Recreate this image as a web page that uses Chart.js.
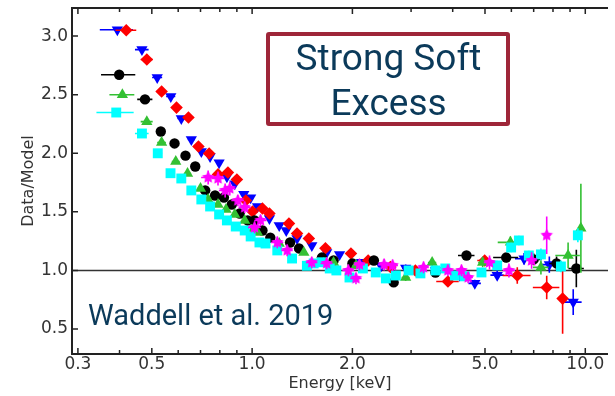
<!DOCTYPE html>
<html lang="en">
<head>
<meta charset="UTF-8">
<title>Data/Model vs Energy</title>
<script src="https://cdn.jsdelivr.net/npm/chart.js"></script>
<style>
  body { margin: 0; background: #fff; }
  #wrap { position: relative; width: 615px; height: 396px; overflow: hidden; }
  #box {
    position: absolute; left: 266px; top: 32px; width: 236px; height: 86px;
    border: 4.5px solid #9e2639; border-radius: 3px; background: #fff;
  }
  .note { position: absolute; font-family: Roboto, sans-serif; color: #0b3a5a; white-space: nowrap; }
  #boxText { left: 266px; width: 245px; top: 35px; font-size: 37px; line-height: 45px; text-align: center; }
  #cite { left: 88px; top: 301px; font-size: 29px; line-height: 29px; }
</style>
</head>
<body>
<div id="wrap">
  <canvas id="c" width="615" height="396"></canvas>
  <div id="box"></div>
  <div id="boxText" class="note">Strong Soft<br>Excess</div>
  <div id="cite" class="note">Waddell et al. 2019</div>
</div>
<script>
// rows: [energy keV, data/model, energy half-width, ratio error]
const blueRows = [
  [0.394, 3.055, 0.045, 0.02], [0.467, 2.885, 0.022, 0.02], [0.519, 2.647, 0.018, 0.02],
  [0.570, 2.485, 0.018, 0.02], [0.613, 2.297, 0.016, 0.02], [0.657, 2.118, 0.016, 0.02],
  [0.704, 2.015, 0.016, 0.02], [0.748, 1.973, 0.016, 0.02], [0.796, 1.920, 0.016, 0.02],
  [0.840, 1.800, 0.016, 0.02], [0.887, 1.740, 0.016, 0.02], [0.944, 1.650, 0.018, 0.02],
  [0.990, 1.620, 0.018, 0.02], [1.038, 1.546, 0.020, 0.02], [1.127, 1.444, 0.020, 0.02],
  [1.206, 1.384, 0.025, 0.02], [1.266, 1.341, 0.025, 0.02], [1.364, 1.273, 0.030, 0.02],
  [1.511, 1.213, 0.030, 0.02], [1.674, 1.154, 0.035, 0.02], [1.830, 1.137, 0.040, 0.02],
  [2.13, 1.07, 0.05, 0.02], [2.44, 1.04, 0.06, 0.02], [2.89, 1.02, 0.07, 0.03],
  [3.55, 1.00, 0.09, 0.03], [4.20, 0.96, 0.12, 0.03], [4.66, 0.89, 0.20, 0.03],
  [5.44, 0.96, 0.25, 0.04], [6.55, 1.10, 0.40, 0.05], [7.80, 1.05, 0.40, 0.07],
  [9.20, 0.73, 0.55, 0.11]
];
const redRows = [
  [0.419, 3.05, 0.030, 0.02], [0.483, 2.80, 0.020, 0.02], [0.535, 2.527, 0.018, 0.02],
  [0.593, 2.39, 0.018, 0.02], [0.644, 2.305, 0.016, 0.02], [0.690, 2.058, 0.016, 0.02],
  [0.743, 1.998, 0.016, 0.02], [0.790, 1.82, 0.016, 0.02], [0.846, 1.836, 0.016, 0.02],
  [0.900, 1.776, 0.018, 0.02], [0.957, 1.597, 0.018, 0.02], [1.003, 1.503, 0.020, 0.02],
  [1.074, 1.529, 0.020, 0.02], [1.127, 1.486, 0.020, 0.02], [1.29, 1.40, 0.025, 0.02],
  [1.364, 1.316, 0.030, 0.02], [1.48, 1.273, 0.030, 0.02], [1.66, 1.19, 0.035, 0.02],
  [1.98, 1.145, 0.05, 0.02], [2.23, 1.085, 0.05, 0.02], [2.60, 1.03, 0.06, 0.03],
  [3.09, 1.00, 0.08, 0.03], [3.87, 0.906, 0.30, 0.03], [4.99, 1.085, 0.25, 0.04],
  [6.25, 0.957, 0.60, 0.07], [7.66, 0.855, 0.70, 0.10], [8.55, 0.76, 0.20, 0.30]
];
const blackRows = [
  [0.399, 2.67, 0.047, 0.02], [0.477, 2.46, 0.025, 0.02], [0.532, 2.186, 0.016, 0.02],
  [0.585, 2.084, 0.016, 0.02], [0.631, 1.98, 0.016, 0.02], [0.675, 1.887, 0.016, 0.02],
  [0.723, 1.683, 0.016, 0.02], [0.774, 1.64, 0.016, 0.02], [0.823, 1.623, 0.016, 0.02],
  [0.869, 1.563, 0.016, 0.02], [0.918, 1.486, 0.018, 0.02], [0.970, 1.427, 0.018, 0.02],
  [1.017, 1.427, 0.020, 0.02], [1.074, 1.341, 0.020, 0.02], [1.134, 1.28, 0.020, 0.02],
  [1.30, 1.239, 0.025, 0.02], [1.383, 1.188, 0.030, 0.02], [1.62, 1.11, 0.035, 0.02],
  [1.756, 1.085, 0.04, 0.02], [2.00, 1.06, 0.05, 0.02], [2.32, 1.085, 0.05, 0.02],
  [2.66, 0.898, 0.06, 0.03], [3.55, 0.983, 0.10, 0.03], [4.40, 1.128, 0.25, 0.03],
  [5.79, 1.11, 0.50, 0.04], [7.00, 1.094, 0.40, 0.05], [8.20, 1.06, 0.40, 0.06],
  [9.40, 1.017, 0.50, 0.16]
];
const greenRows = [
  [0.408, 2.50, 0.035, 0.02], [0.483, 2.27, 0.020, 0.02], [0.535, 2.092, 0.016, 0.02],
  [0.590, 1.93, 0.016, 0.02], [0.640, 1.828, 0.016, 0.02], [0.700, 1.70, 0.016, 0.02],
  [0.738, 1.606, 0.016, 0.02], [0.790, 1.563, 0.016, 0.02], [0.835, 1.52, 0.016, 0.02],
  [0.887, 1.478, 0.016, 0.02], [0.950, 1.427, 0.018, 0.02], [1.003, 1.341, 0.020, 0.02],
  [1.038, 1.324, 0.020, 0.02], [1.206, 1.23, 0.025, 0.02], [1.43, 1.154, 0.030, 0.02],
  [1.64, 1.06, 0.035, 0.02], [1.756, 1.068, 0.04, 0.02], [2.05, 1.04, 0.05, 0.02],
  [2.89, 0.94, 0.08, 0.03], [3.47, 1.068, 0.10, 0.03], [4.92, 1.068, 0.15, 0.04],
  [5.96, 1.24, 0.50, 0.05], [7.36, 1.026, 0.40, 0.06], [8.88, 1.128, 0.75, 0.11],
  [9.70, 1.36, 0.20, 0.38]
];
const cyanRows = [
  [0.391, 2.348, 0.050, 0.02], [0.467, 2.169, 0.022, 0.02], [0.521, 2.00, 0.016, 0.02],
  [0.569, 1.83, 0.016, 0.02], [0.613, 1.785, 0.016, 0.02], [0.657, 1.683, 0.016, 0.02],
  [0.704, 1.606, 0.016, 0.02], [0.748, 1.546, 0.016, 0.02], [0.796, 1.478, 0.016, 0.02],
  [0.840, 1.427, 0.016, 0.02], [0.893, 1.375, 0.016, 0.02], [0.950, 1.341, 0.018, 0.02],
  [0.990, 1.29, 0.018, 0.02], [1.052, 1.239, 0.020, 0.02], [1.097, 1.23, 0.020, 0.02],
  [1.19, 1.171, 0.025, 0.02], [1.318, 1.102, 0.030, 0.02], [1.46, 1.04, 0.030, 0.02],
  [1.53, 1.06, 0.030, 0.02], [1.62, 1.07, 0.035, 0.02], [1.71, 1.017, 0.035, 0.02],
  [1.79, 1.00, 0.04, 0.02], [1.96, 0.94, 0.04, 0.02], [2.15, 1.017, 0.05, 0.02],
  [2.35, 0.983, 0.05, 0.02], [2.52, 0.932, 0.06, 0.02], [2.70, 0.957, 0.06, 0.02],
  [2.95, 1.00, 0.07, 0.02], [3.20, 0.975, 0.08, 0.02], [3.55, 1.00, 0.09, 0.03],
  [3.80, 1.017, 0.10, 0.03], [4.06, 0.957, 0.10, 0.03], [4.35, 0.95, 0.10, 0.03],
  [4.88, 0.983, 0.12, 0.03], [5.44, 1.043, 0.15, 0.04], [5.99, 1.196, 0.15, 0.04],
  [6.32, 1.256, 0.15, 0.04], [6.77, 1.128, 0.20, 0.04], [7.36, 1.137, 0.20, 0.05],
  [8.45, 1.034, 0.25, 0.05], [9.50, 1.30, 0.20, 0.06]
];
const magentaRows = [
  [0.738, 1.794, 0.035, 0.06], [0.790, 1.785, 0.035, 0.06], [0.830, 1.683, 0.035, 0.06],
  [0.857, 1.70, 0.035, 0.06], [0.906, 1.597, 0.040, 0.05], [0.950, 1.538, 0.040, 0.05],
  [1.017, 1.367, 0.045, 0.05], [1.060, 1.427, 0.045, 0.05], [1.19, 1.239, 0.05, 0.05],
  [1.274, 1.171, 0.05, 0.05], [1.51, 1.068, 0.06, 0.05], [1.674, 1.06, 0.07, 0.05],
  [1.945, 1.00, 0.08, 0.05], [2.05, 0.932, 0.08, 0.05], [2.10, 1.05, 0.08, 0.05],
  [2.49, 1.05, 0.10, 0.05], [2.64, 1.043, 0.10, 0.05], [3.27, 1.026, 0.12, 0.05],
  [3.87, 1.00, 0.15, 0.05], [4.25, 1.00, 0.15, 0.05], [4.45, 0.94, 0.15, 0.05],
  [5.16, 1.068, 0.20, 0.06], [5.90, 1.00, 0.25, 0.06], [6.90, 1.085, 0.25, 0.07],
  [7.66, 1.30, 0.20, 0.16]
];

const xMajor = [0.3, 0.5, 1.0, 2.0, 5.0, 10.0];
const xMinor = [0.4, 0.6, 0.7, 0.8, 0.9, 3, 4, 6, 7, 8, 9];
const yMajor = [0.5, 1.0, 1.5, 2.0, 2.5, 3.0];

// filled five-point star marker
function starMarker(color, r) {
  const c = document.createElement('canvas');
  const s = Math.ceil(r * 2 + 2);
  c.width = c.height = s;
  const g = c.getContext('2d');
  g.fillStyle = color;
  g.beginPath();
  for (let i = 0; i < 10; i++) {
    const a = -Math.PI / 2 + i * Math.PI / 5;
    const rr = i % 2 ? r * 0.5 : r;
    g.lineTo(s / 2 + rr * Math.cos(a), s / 2 + rr * Math.sin(a));
  }
  g.closePath();
  g.fill();
  return c;
}

function series(rows, color, style, radius, rot) {
  return {
    rows: rows,
    data: rows.map(r => ({ x: r[0], y: r[1] })),
    backgroundColor: color,
    borderColor: color,
    pointStyle: style,
    pointRadius: radius,
    pointBorderWidth: 0,
    pointRotation: rot || 0,
    showLine: false
  };
}

// error bars, drawn just under each dataset's markers
const errorBars = {
  id: 'errorBars',
  beforeDatasetDraw(chart, args) {
    const ds = chart.data.datasets[args.index];
    const xs = chart.scales.x, ys = chart.scales.y, ctx = chart.ctx, a = chart.chartArea;
    ctx.save();
    ctx.beginPath();
    ctx.rect(a.left, a.top, a.right - a.left, a.bottom - a.top);
    ctx.clip();
    ctx.strokeStyle = ds.borderColor;
    ctx.lineWidth = 1.6;
    ctx.beginPath();
    ds.rows.forEach(r => {
      const px = xs.getPixelForValue(r[0]), py = ys.getPixelForValue(r[1]);
      ctx.moveTo(xs.getPixelForValue(r[0] - r[2]), py);
      ctx.lineTo(xs.getPixelForValue(r[0] + r[2]), py);
      ctx.moveTo(px, ys.getPixelForValue(r[1] - r[3]));
      ctx.lineTo(px, ys.getPixelForValue(r[1] + r[3]));
    });
    ctx.stroke();
    ctx.restore();
  }
};

// frame, inward ticks and the unity line
const frame = {
  id: 'frame',
  beforeDatasetsDraw(chart) {
    const ctx = chart.ctx, a = chart.chartArea, ys = chart.scales.y;
    const y1 = ys.getPixelForValue(1.0);
    ctx.save();
    ctx.strokeStyle = '#333';
    ctx.lineWidth = 1.4;
    ctx.beginPath();
    ctx.moveTo(a.left, y1);
    ctx.lineTo(a.right, y1);
    ctx.stroke();
    ctx.restore();
  },
  afterDraw(chart) {
    const ctx = chart.ctx, a = chart.chartArea, xs = chart.scales.x, ys = chart.scales.y;
    ctx.save();
    ctx.strokeStyle = '#222';
    ctx.lineWidth = 2;
    ctx.beginPath();
    ctx.moveTo(a.right, a.top); ctx.lineTo(a.left, a.top);
    ctx.lineTo(a.left, a.bottom); ctx.lineTo(a.right, a.bottom);
    ctx.stroke();
    ctx.lineWidth = 1.5;
    ctx.beginPath();
    xMajor.forEach(v => {
      const p = xs.getPixelForValue(v);
      ctx.moveTo(p, a.bottom); ctx.lineTo(p, a.bottom - 6);
      ctx.moveTo(p, a.top); ctx.lineTo(p, a.top + 6);
    });
    xMinor.forEach(v => {
      const p = xs.getPixelForValue(v);
      ctx.moveTo(p, a.bottom); ctx.lineTo(p, a.bottom - 4);
      ctx.moveTo(p, a.top); ctx.lineTo(p, a.top + 4);
    });
    yMajor.forEach(v => {
      const p = ys.getPixelForValue(v);
      ctx.moveTo(a.left, p); ctx.lineTo(a.left + 6, p);
    });
    ctx.stroke();
    ctx.restore();
  }
};

new Chart(document.getElementById('c'), {
  type: 'scatter',
  data: {
    datasets: [
      series(magentaRows, '#ff00ff', starMarker('#ff00ff', 6.5), 6),
      series(cyanRows, '#00ffff', 'rect', 7),
      series(greenRows, '#33c033', 'triangle', 6.5),
      series(blackRows, '#000000', 'circle', 5.2),
      series(redRows, '#ff0000', 'rectRot', 6.3),
      series(blueRows, '#0000ff', 'triangle', 6.5, 180)
    ]
  },
  options: {
    responsive: false,
    animation: false,
    devicePixelRatio: 1,
    layout: { padding: { top: 8, left: 0, right: 0, bottom: 0 } },
    plugins: { legend: { display: false }, tooltip: { enabled: false } },
    scales: {
      x: {
        type: 'logarithmic',
        min: 0.288,
        max: 11.7,
        grid: { display: false, drawTicks: false },
        border: { display: false },
        afterBuildTicks: s => { s.ticks = xMajor.map(v => ({ value: v })); },
        afterFit: s => { s.height = 42; s.paddingLeft = 0; s.paddingRight = 0; },
        ticks: {
          autoSkip: false, maxRotation: 0, padding: 0, color: '#333',
          font: { family: 'DejaVu Sans', size: 17 },
          callback: v => Number(v).toFixed(1)
        },
        title: {
          display: true, text: 'Energy [keV]', color: '#333',
          font: { family: 'DejaVu Sans', size: 16 },
          padding: { top: 0, bottom: 3 }
        }
      },
      y: {
        min: 0.287,
        max: 3.24,
        grid: { display: false, drawTicks: false },
        border: { display: false },
        afterBuildTicks: s => { s.ticks = yMajor.map(v => ({ value: v })); },
        afterFit: s => { s.width = 72; s.paddingTop = 0; s.paddingBottom = 0; },
        ticks: {
          padding: 4, color: '#333',
          font: { family: 'DejaVu Sans', size: 17 },
          callback: v => Number(v).toFixed(1)
        },
        title: {
          display: true, text: 'Data/Model', color: '#333',
          font: { family: 'DejaVu Sans', size: 16 },
          padding: { top: 19, bottom: 0 }
        }
      }
    }
  },
  plugins: [errorBars, frame]
});
</script>
</body>
</html>
